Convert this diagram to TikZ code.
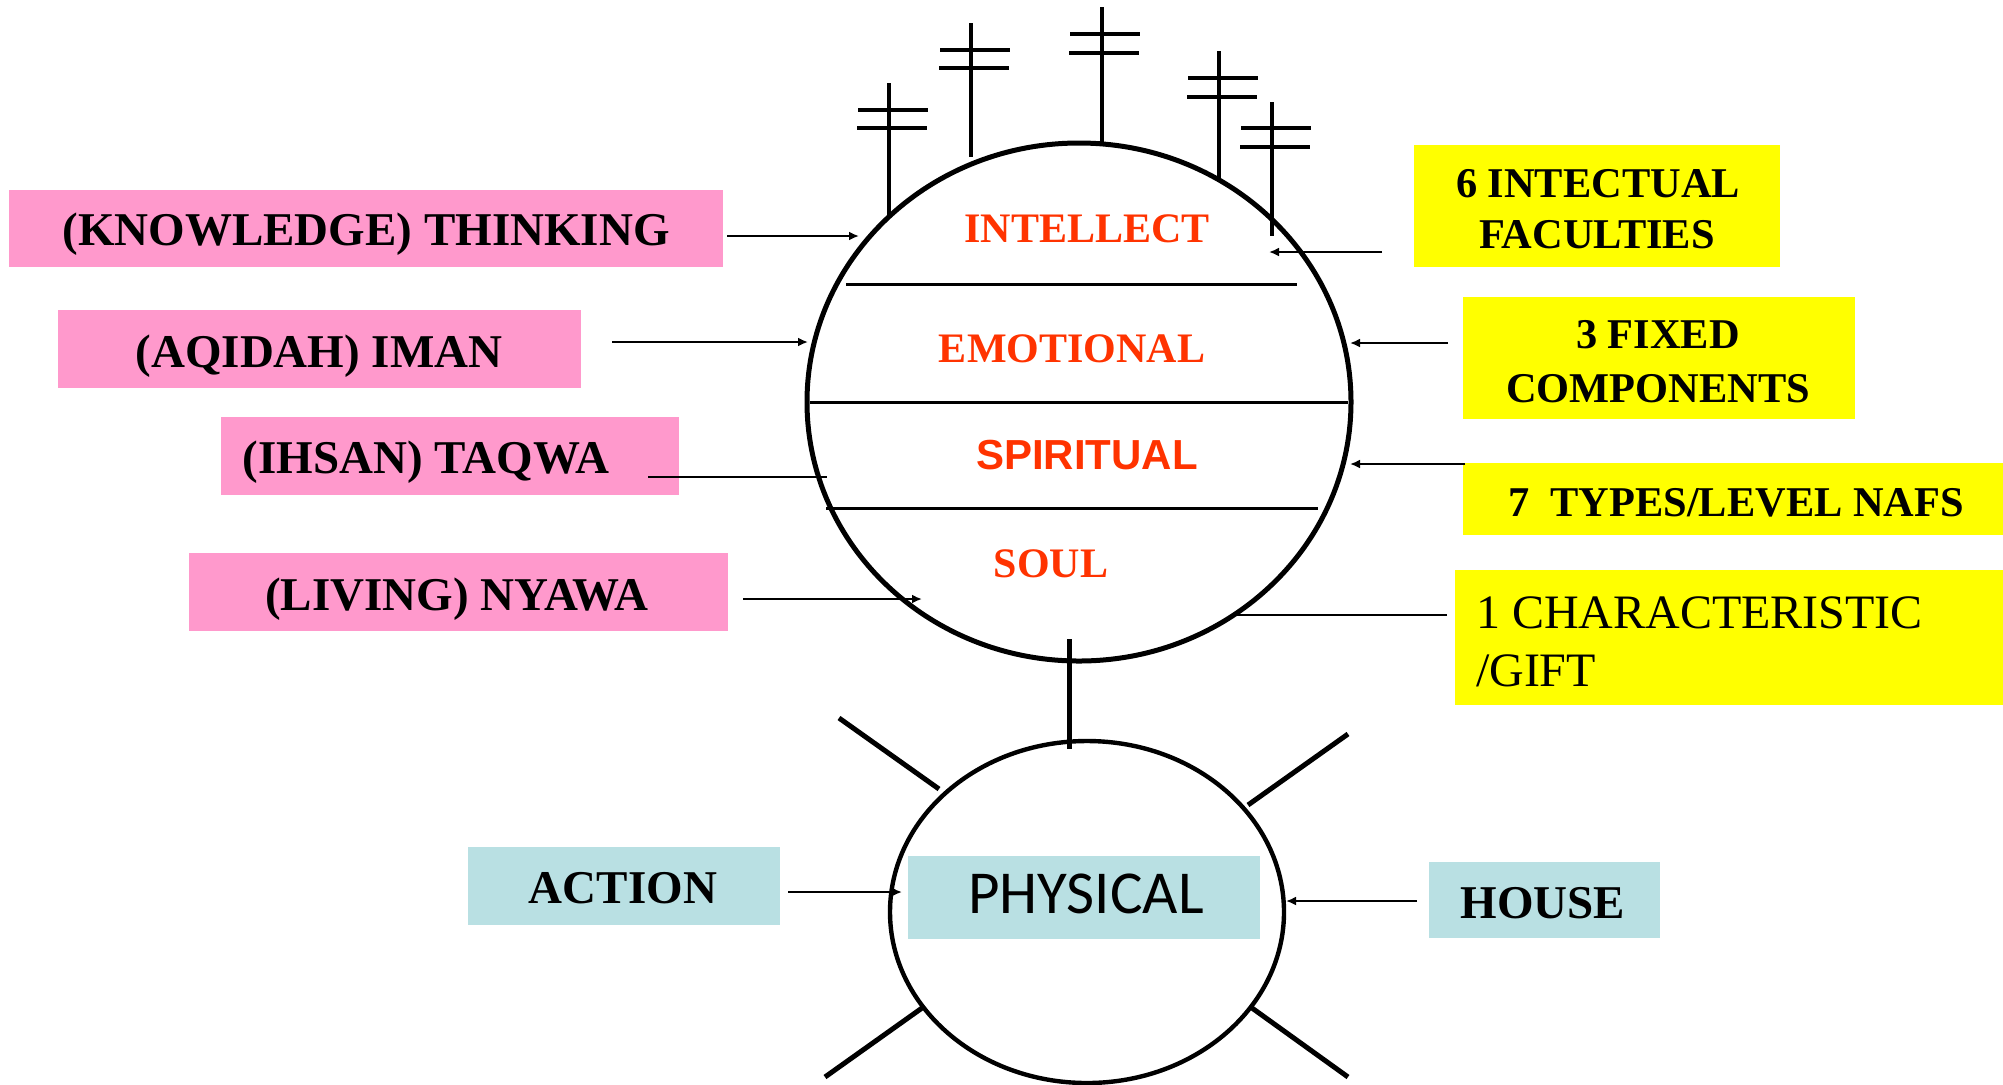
\documentclass[tikz,border=0pt]{standalone}
\usepackage{fontspec}
\setmainfont{Liberation Serif}
\newfontfamily\arialfont{Liberation Sans}
\newfontfamily\physfont{Carlito}
\usetikzlibrary{arrows.meta,shapes.geometric}
\definecolor{pinkfill}{RGB}{255,153,204}
\definecolor{yellowfill}{RGB}{255,255,0}
\definecolor{bluefill}{RGB}{185,224,227}
\definecolor{redtxt}{RGB}{255,51,0}
\begin{document}
\begin{tikzpicture}[x=0.5pt,y=-0.5pt,
  box/.style={rectangle, inner sep=0pt, outer sep=0pt, draw=none},
  pinkbox/.style={box, fill=pinkfill},
  yellowbox/.style={box, fill=yellowfill},
  bluebox/.style={box, fill=bluefill},
  lbl/.style={inner sep=0pt, outer sep=0pt, anchor=base},
  pinklbl/.style={lbl, font=\fontsize{23.5pt}{28pt}\selectfont\bfseries},
  redlbl/.style={lbl, text=redtxt, font=\fontsize{21pt}{25pt}\selectfont\bfseries},
  yellbl/.style={lbl, font=\fontsize{21.2pt}{25pt}\selectfont\bfseries},
  plainlbl/.style={lbl, anchor=base west, font=\fontsize{24pt}{28pt}\selectfont},
  arr/.style={line width=1.3pt, -{Latex[length=5pt,width=4.5pt]}},
  conn/.style={line width=1.3pt},
  divider/.style={line width=1.5pt},
  crossline/.style={line width=1.6pt},
  ray/.style={line width=2.5pt}
]
\useasboundingbox (0,0) rectangle (2003,1084);

% ---------- soul circle ----------
\node[ellipse, draw, line width=2.5pt, inner sep=0pt, minimum width=272pt, minimum height=259pt] (soul) at (1079,402) {};

% dividers
\coordinate (h1a) at (846,284); \coordinate (h1b) at (1297,284);
\coordinate (h2a) at (810,402); \coordinate (h2b) at (1348,402);
\coordinate (h3a) at (826,508); \coordinate (h3b) at (1318,508);
\draw[divider] (h1a) -- (h1b);
\draw[divider] (h2a) -- (h2b);
\draw[divider] (h3a) -- (h3b);

% crosses on top
\draw[crossline] (889,83) -- (889,217) (858,110) -- (928,110) (857,128) -- (927,128);
\draw[crossline] (971,23) -- (971,157) (940,50) -- (1010,50) (939,68) -- (1009,68);
\draw[crossline] (1102,7) -- (1102,142) (1070,34) -- (1140,34) (1069,53) -- (1139,53);
\draw[crossline] (1219,51) -- (1219,180) (1188,78) -- (1258,78) (1187,97) -- (1257,97);
\draw[crossline] (1272,102) -- (1272,236) (1241,128) -- (1311,128) (1240,147) -- (1310,147);

% red labels
\node[redlbl] (intellect) at (1087,242) {INTELLECT};
\node[redlbl] (emotional) at (1072,362) {EMOTIONAL};
\node[redlbl, font=\fontsize{21pt}{25pt}\selectfont\bfseries\arialfont] (spiritual) at (1087,469) {SPIRITUAL};
\node[redlbl] (soullbl) at (1051,577) {SOUL};

% ---------- pink boxes ----------
\node[pinkbox, minimum width=357pt, minimum height=38.5pt] (p1) at (366,228.5) {};
\node[pinkbox, minimum width=261.5pt, minimum height=39pt] (p2) at (319.5,349) {};
\node[pinkbox, minimum width=229pt, minimum height=39pt] (p3) at (450,456) {};
\node[pinkbox, minimum width=269.5pt, minimum height=39pt] (p4) at (458.5,592) {};
\node[pinklbl] (t1) at (366,245) {(KNOWLEDGE) THINKING};
\node[pinklbl] (t2) at (319,367) {(AQIDAH) IMAN};
\node[pinklbl] (t3) at (426,473) {(IHSAN) TAQWA};
\node[pinklbl] (t4) at (457,610) {(LIVING) NYAWA};

% ---------- yellow boxes ----------
\node[yellowbox, minimum width=183pt, minimum height=61pt] (y1) at (1597,206) {};
\node[yellowbox, minimum width=196pt, minimum height=61pt] (y2) at (1659,358) {};
\node[yellowbox, minimum width=270pt, minimum height=36pt] (y3) at (1733,499) {};
\node[yellowbox, minimum width=274pt, minimum height=67.5pt] (y4) at (1729,637.5) {};
\node[yellbl] (y1a) at (1598,197) {6 INTECTUAL};
\node[yellbl] (y1b) at (1597,248) {FACULTIES};
\node[yellbl] (y2a) at (1658,348) {3 FIXED};
\node[yellbl] (y2b) at (1658,402) {COMPONENTS};
\node[yellbl] (y3a) at (1736,516) {7\ \ TYPES/LEVEL NAFS};
\node[plainlbl] (y4a) at (1476,628) {1 CHARACTERISTIC};
\node[plainlbl] (y4b) at (1476,686) {/GIFT};

% ---------- connectors to soul circle ----------
\coordinate (a1s) at (727,236); \coordinate (a1e) at (859,236);
\coordinate (a2s) at (612,342); \coordinate (a2e) at (808,342);
\coordinate (l3s) at (648,477); \coordinate (l3e) at (827,477);
\coordinate (a4s) at (743,599); \coordinate (a4e) at (922,599);
\coordinate (a5s) at (1382,252); \coordinate (a5e) at (1269,252);
\coordinate (a6s) at (1448,343); \coordinate (a6e) at (1350,343);
\coordinate (a7s) at (1465,464); \coordinate (a7e) at (1350,464);
\coordinate (l8s) at (1447,615); \coordinate (l8e) at (1237,615);
\draw[arr] (a1s) -- (a1e);
\draw[arr] (a2s) -- (a2e);
\draw[conn] (l3s) -- (l3e);
\draw[arr] (a4s) -- (a4e);
\draw[arr] (a5s) -- (a5e);
\draw[arr] (a6s) -- (a6e);
\draw[arr] (a7s) -- (a7e);
\draw[conn] (l8s) -- (l8e);

% ---------- neck ----------
\coordinate (neckT) at (1069,639); \coordinate (neckB) at (1069,749);
\draw[line width=2.5pt] (neckT) -- (neckB);

% ---------- body ----------
\node[ellipse, draw, line width=2.2pt, inner sep=0pt, minimum width=197pt, minimum height=171pt] (body) at (1087,912) {};
\draw[ray] (839,718) -- (939,789);
\draw[ray] (1348,734) -- (1248,805);
\draw[ray] (922,1008) -- (825,1077);
\draw[ray] (1252,1008) -- (1348,1077);

\node[bluebox, minimum width=156pt, minimum height=39pt] (actbox) at (624,886) {};
\node[bluebox, minimum width=176pt, minimum height=41.5pt] (physbox) at (1084,897.5) {};
\node[bluebox, minimum width=115.5pt, minimum height=38pt] (housebox) at (1544.5,900) {};
\node[pinklbl] (action) at (623,903) {ACTION};
\node[pinklbl] (house) at (1543,918) {HOUSE};
\node[lbl, font=\fontsize{30.5pt}{34pt}\selectfont\physfont] (physical) at (1086,913) {PHYSICAL};

\coordinate (a9s) at (788,892); \coordinate (a9e) at (902,892);
\coordinate (a10s) at (1417,901); \coordinate (a10e) at (1286,901);
\draw[arr] (a9s) -- (a9e);
\draw[arr] (a10s) -- (a10e);
\end{tikzpicture}
\end{document}
